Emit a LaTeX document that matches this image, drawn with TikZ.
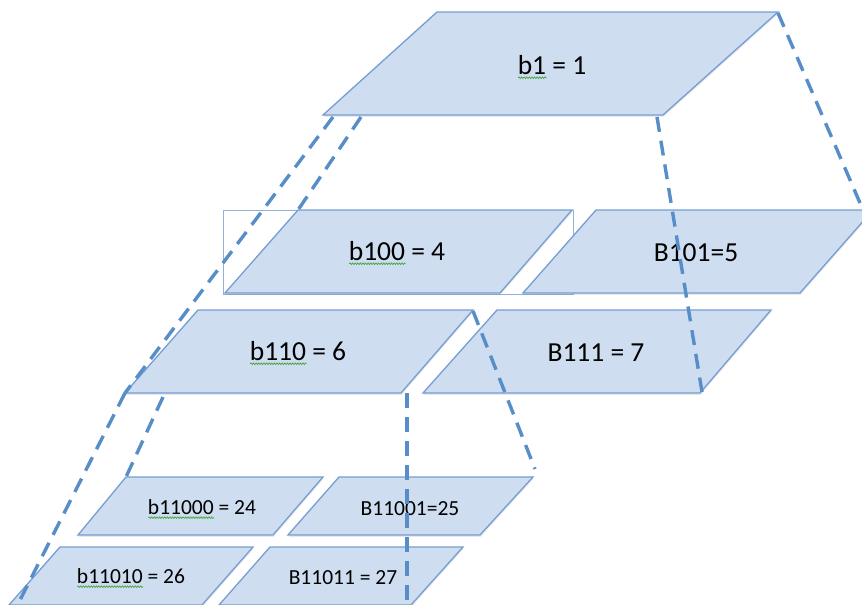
\documentclass[tikz,border=0pt]{standalone}
\usepackage{fontspec}
\setmainfont{Carlito}
\usetikzlibrary{decorations.pathmorphing,shadows}
\definecolor{platefill}{RGB}{206,221,240}
\definecolor{plateline}{RGB}{118,158,210}
\definecolor{linkblue}{RGB}{88,142,200}
\definecolor{spellgreen}{RGB}{70,165,60}
\newsavebox\spellbox
\newcommand\spellmark[1]{\sbox\spellbox{#1}\rlap{\tikz[baseline=0pt]\draw[draw=spellgreen, line width=0.7pt, decorate, decoration={snake, amplitude=0.8pt, segment length=2.6pt}] (0pt,-3.5pt) -- (\wd\spellbox,-3.5pt);}\usebox\spellbox}
\begin{document}
\begin{tikzpicture}[x=1pt,y=-1pt]
\tikzstyle{plate} = [fill=platefill, draw=plateline, line width=1.3pt, drop shadow={shadow xshift=0.6pt, shadow yshift=-1.8pt, opacity=0.18}]
\tikzstyle{frame_style} = [draw=plateline!80, line width=0.8pt]
\tikzstyle{link} = [draw=linkblue, line width=3.4pt, dash pattern=on 15pt off 9pt]
\tikzstyle{big} = [font=\fontsize{27.5}{30}\selectfont, inner sep=0pt]
\tikzstyle{small} = [font=\fontsize{21.5}{24}\selectfont, inner sep=0pt]
    \useasboundingbox (0,0) rectangle (862,605);
    \clip (0,0) rectangle (862,605);

    \draw[frame_style] (223,210) rectangle (573,294);

    \filldraw[plate] (437,12) -- (778,12) -- (663,115) -- (323,115) -- cycle;
    \filldraw[plate] (298,210) -- (572,210) -- (500,293) -- (225,293) -- cycle;
    \filldraw[plate] (596,210) -- (873,210) -- (800,293) -- (523,293) -- cycle;
    \filldraw[plate] (198,310) -- (473,310) -- (401,393) -- (125,393) -- cycle;
    \filldraw[plate] (497,310) -- (771,310) -- (700,393) -- (423,393) -- cycle;
    \filldraw[plate] (126,477) -- (323,477) -- (273,535) -- (78,535) -- cycle;
    \filldraw[plate] (339,477) -- (533,477) -- (480,535) -- (288,535) -- cycle;
    \filldraw[plate] (60,547) -- (253,547) -- (202,605) -- (9,605) -- cycle;
    \filldraw[plate] (270,547) -- (463,547) -- (411,605) -- (219,605) -- cycle;

    \coordinate (b1tr) at (778,13);
    \coordinate (b1bl) at (333,117);
    \coordinate (b1bm) at (361,117);
    \coordinate (b1br) at (657,117);
    \coordinate (b100tl) at (298,210);
    \coordinate (b101tr) at (860,203);
    \coordinate (b110bl) at (125,393);
    \coordinate (b110bm) at (163,397);
    \coordinate (b110br) at (407,393);
    \coordinate (b110tr) at (473,311);
    \coordinate (b111br) at (702,392);
    \coordinate (b11000tl) at (126,477);
    \coordinate (b11001tr) at (535,469);
    \coordinate (b11010bl) at (20,600);
    \coordinate (b11011br) at (407,605);

    \node[big] (l1) at (552,67) {\spellmark{b1} = 1};
    \node[big] (l100) at (397,253) {\spellmark{b100} = 4};
    \node[big] (l101) at (696,253) {B101=5};
    \node[big] (l110) at (298,353) {\spellmark{b110} = 6};
    \node[big] (l111) at (596,353) {B111 = 7};
    \node[small] (l11000) at (202,509) {\spellmark{b11000} = 24};
    \node[small] (l11001) at (410,509) {B11001=25};
    \node[small] (l11010) at (131,578) {\spellmark{b11010} = 26};
    \node[small] (l11011) at (343,578) {B11011 = 27};

    \draw[link] (b1tr) -- (b101tr);
    \draw[link] (b1br) -- (b111br);
    \draw[link] (b1bl) -- (b110bl);
    \draw[link] (b1bm) -- (b100tl);
    \draw[link] (b110bl) -- (b11010bl);
    \draw[link] (b110bm) -- (b11000tl);
    \draw[link] (b110br) -- (b11011br);
    \draw[link] (b110tr) -- (b11001tr);
\end{tikzpicture}
\end{document}
